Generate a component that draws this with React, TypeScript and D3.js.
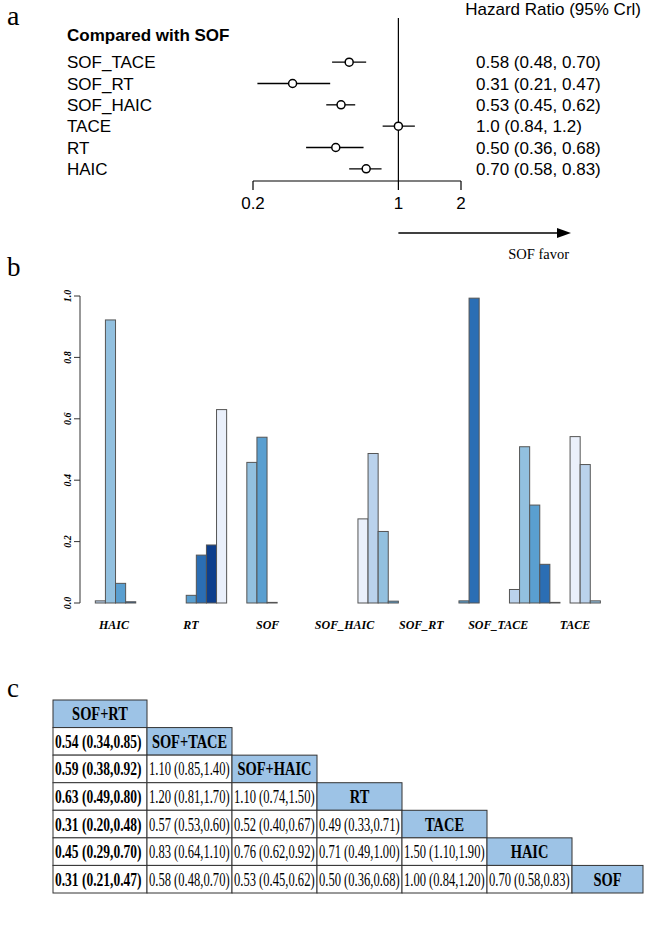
import * as d3 from 'd3'

// panel a: hazard ratios vs SOF
const forestLabels = ['SOF_TACE', 'SOF_RT', 'SOF_HAIC', 'TACE', 'RT', 'HAIC']
const forestEst = [0.58, 0.31, 0.53, 1.0, 0.5, 0.7]
const forestLo = [0.48, 0.21, 0.45, 0.84, 0.36, 0.58]
const forestHi = [0.7, 0.47, 0.62, 1.2, 0.68, 0.83]
const forestText = ['0.58 (0.48, 0.70)', '0.31 (0.21, 0.47)', '0.53 (0.45, 0.62)', '1.0 (0.84, 1.2)', '0.50 (0.36, 0.68)', '0.70 (0.58, 0.83)']
const forestTicks = [0.2, 1, 2]

// panel b: rank probabilities, one array per treatment (rank 1..7)
const rankTreatments = ['HAIC', 'RT', 'SOF', 'SOF_HAIC', 'SOF_RT', 'SOF_TACE', 'TACE']
const probHAIC = [0, 0.007, 0.922, 0.064, 0.004, 0, 0]
const probRT = [0, 0, 0.025, 0.156, 0.189, 0.63, 0]
const probSOF = [0.458, 0.54, 0.002, 0, 0, 0, 0]
const probSOF_HAIC = [0, 0, 0, 0.274, 0.487, 0.233, 0.006]
const probSOF_RT = [0, 0, 0, 0, 0, 0.007, 0.993]
const probSOF_TACE = [0, 0, 0.044, 0.509, 0.319, 0.126, 0.002]
const probTACE = [0.542, 0.451, 0.007, 0, 0, 0, 0]
const rankTicks = [0, 0.2, 0.4, 0.6, 0.8, 1.0]
const blues = ['#eaf0fb', '#bad2ec', '#92c0df', '#5a9fd0', '#2b6eb4', '#0d3e8c']

// panel c: league table
const leagueHeaders = ['SOF+RT', 'SOF+TACE', 'SOF+HAIC', 'RT', 'TACE', 'HAIC', 'SOF']
const leagueRow2 = ['0.54 (0.34,0.85)']
const leagueRow3 = ['0.59 (0.38,0.92)', '1.10 (0.85,1.40)']
const leagueRow4 = ['0.63 (0.49,0.80)', '1.20 (0.81,1.70)', '1.10 (0.74,1.50)']
const leagueRow5 = ['0.31 (0.20,0.48)', '0.57 (0.53,0.60)', '0.52 (0.40,0.67)', '0.49 (0.33,0.71)']
const leagueRow6 = ['0.45 (0.29,0.70)', '0.83 (0.64,1.10)', '0.76 (0.62,0.92)', '0.71 (0.49,1.00)', '1.50 (1.10,1.90)']
const leagueRow7 = ['0.31 (0.21,0.47)', '0.58 (0.48,0.70)', '0.53 (0.45,0.62)', '0.50 (0.36,0.68)', '1.00 (0.84,1.20)', '0.70 (0.58,0.83)']

const SANS = '"Liberation Sans", Arial, sans-serif'
const SERIF = '"Liberation Serif", "Times New Roman", serif'

function Forest() {
  const x = d3.scaleLog().domain([0.2, 2]).range([253, 461])
  const y = d3.scaleBand().domain(forestLabels).range([51.5, 179.5])
  const cy = (d: string) => (y(d) as number) + y.bandwidth() / 2
  const axisY = 181
  return (
    <g>
      <text x={7} y={25} fontFamily={SERIF} fontSize={28}>a</text>
      <text x={641} y={15} textAnchor="end" fontFamily={SANS} fontSize={17}>Hazard Ratio (95% Crl)</text>
      <text x={67} y={41} fontFamily={SANS} fontSize={17} fontWeight="bold">Compared with SOF</text>
      <line x1={x(1)} x2={x(1)} y1={18} y2={axisY} stroke="#000" strokeWidth={1.2} />
      {forestLabels.map((d, i) => (
        <g key={d}>
          <text x={67} y={cy(d) + 6} fontFamily={SANS} fontSize={17}>{d}</text>
          <line x1={x(forestLo[i])} x2={x(forestHi[i])} y1={cy(d)} y2={cy(d)} stroke="#000" strokeWidth={1.3} />
          <circle cx={x(forestEst[i])} cy={cy(d)} r={4} fill="#fff" stroke="#000" strokeWidth={1.5} />
          <text x={476} y={cy(d) + 6} fontFamily={SANS} fontSize={17}>{forestText[i]}</text>
        </g>
      ))}
      <line x1={x(0.2)} x2={x(2)} y1={axisY} y2={axisY} stroke="#000" strokeWidth={1.2} />
      {forestTicks.map(t => (
        <g key={t}>
          <line x1={x(t)} x2={x(t)} y1={axisY} y2={axisY + 9} stroke="#000" strokeWidth={1.2} />
          <text x={x(t)} y={axisY + 28} textAnchor="middle" fontFamily={SANS} fontSize={17}>{String(t)}</text>
        </g>
      ))}
      <line x1={x(1)} x2={560} y1={233} y2={233} stroke="#000" strokeWidth={1.5} />
      <path d="M571,233 L557,228 L557,238 Z" fill="#000" />
      <text x={569} y={259} textAnchor="end" fontFamily={SERIF} fontSize={14.5}>SOF favor</text>
    </g>
  )
}

function RankBars() {
  const probs = [probHAIC, probRT, probSOF, probSOF_HAIC, probSOF_RT, probSOF_TACE, probTACE]
  // R barplot(beside=TRUE): each group = 1 bar gap + 7 bars, in bar units
  const xu = d3.scaleLinear().domain([-1.2, 58.2]).range([63, 663])
  const y = d3.scaleLinear().domain([0, 1]).range([603, 296])
  const xLab = d3.scalePoint<string>().domain(rankTreatments).range([114, 575])
  const axisX = 80
  const bars = probs.flatMap((arr, g) =>
    arr.map((v, i) => ({ g, i, v, k: g * 7 + i, left: g * 8 + 1 + i }))
  )
  return (
    <g>
      <text x={7} y={276} fontFamily={SERIF} fontSize={27}>b</text>
      <line x1={axisX} x2={axisX} y1={y(0)} y2={y(1)} stroke="#333" strokeWidth={1} />
      {rankTicks.map(t => (
        <g key={t}>
          <line x1={axisX - 6} x2={axisX} y1={y(t)} y2={y(t)} stroke="#333" strokeWidth={1} />
          <text transform={`translate(${axisX - 9},${y(t)}) rotate(-90)`} textAnchor="middle" fontFamily={SERIF}
            fontSize={10} fontWeight="bold" fontStyle="italic">{t.toFixed(1)}</text>
        </g>
      ))}
      {bars.map(b => (
        <rect key={b.k} x={xu(b.left)} width={xu(b.left + 1) - xu(b.left)} y={y(b.v)} height={y(0) - y(b.v)}
          fill={blues[b.k % blues.length]} stroke="#555" strokeWidth={1} />
      ))}
      {rankTreatments.map(d => (
        <text key={d} x={xLab(d)} y={629} textAnchor="middle" fontFamily={SERIF} fontSize={12}
          fontWeight="bold" fontStyle="italic">{d}</text>
      ))}
    </g>
  )
}

function League() {
  const rows = [[], leagueRow2, leagueRow3, leagueRow4, leagueRow5, leagueRow6, leagueRow7]
  const colEdges = [53, 147, 232, 317, 402, 487, 572, 643]
  const x = d3.scaleOrdinal<number, number>().domain(d3.range(8)).range(colEdges)
  const y = d3.scaleLinear().domain([0, 7]).range([700, 893])
  const cells: { r: number, c: number, text: string, header: boolean }[] = []
  rows.forEach((vals, r) => {
    vals.forEach((t, c) => cells.push({ r, c, text: t, header: false }))
    cells.push({ r, c: r, text: leagueHeaders[r], header: true })
  })
  return (
    <g>
      <text x={7} y={697} fontFamily={SERIF} fontSize={27}>c</text>
      {cells.map(cell => {
        const x0 = x(cell.c), x1 = x(cell.c + 1)
        const y0 = y(cell.r), y1 = y(cell.r + 1)
        const bold = cell.header || cell.c === 0
        const tx = cell.header ? (x0 + x1) / 2 : x0 + 2
        const ty = (y0 + y1) / 2 + 6.5
        const sx = cell.header ? 0.74 : cell.c === 0 ? 0.73 : 0.68
        return (
          <g key={`${cell.r}-${cell.c}`}>
            <rect x={x0} y={y0} width={x1 - x0} height={y1 - y0} fill={cell.header ? '#9dc3e6' : '#fff'}
              stroke="#333" strokeWidth={1} />
            <text transform={`translate(${tx},${ty}) scale(${sx},1)`} textAnchor={cell.header ? 'middle' : 'start'}
              fontFamily={SERIF} fontSize={cell.header ? 19.5 : 18.5}
              fontWeight={bold ? 'bold' : 'normal'}>{cell.text}</text>
          </g>
        )
      })}
    </g>
  )
}

export default function App() {
  return (
    <svg width={645} height={935} style={{ position: 'absolute', left: 0, top: 0, background: '#fff' }}>
      <rect width={645} height={935} fill="#fff" />
      <Forest />
      <RankBars />
      <League />
    </svg>
  )
}
